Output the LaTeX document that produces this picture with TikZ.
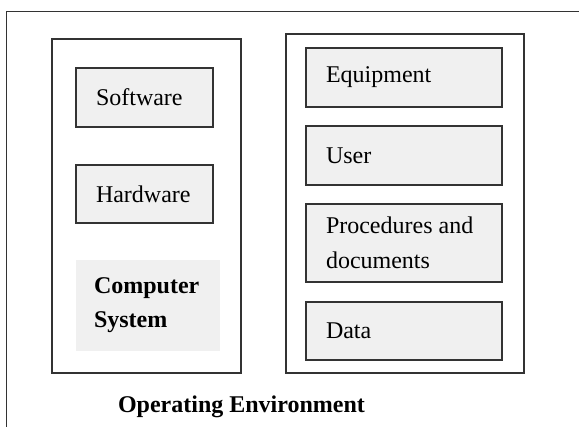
\documentclass[tikz,border=0pt]{standalone}
\usepackage{fontspec}
\setmainfont{Liberation Serif}
\definecolor{boxfill}{HTML}{F0F0F0}
\definecolor{boxline}{HTML}{333333}

\begin{document}
\begin{tikzpicture}[x=0.5pt,y=-0.5pt,line width=0.75pt,
  part/.style={draw=boxline,fill=boxfill,align=flush left,inner xsep=10pt,inner ysep=0pt,minimum height=29.5pt,font=\fontsize{12}{17.5}\selectfont}]
  \useasboundingbox (0,0) rectangle (579,427);
  % marco exterior (entorno)
  \draw[boxline] (6.5,440)--(6.5,11.5)--(590,11.5);
  % sistema (izquierda)
  \draw[boxline] (52,39) rectangle (241,373);
  \node[part,text width=48.5pt] (software) at (144.5,97.5){Software};
  \node[part,text width=48.5pt,minimum height=29pt] (hardware) at (144.5,194){Hardware};
  \node[fill=boxfill,align=flush left,inner xsep=9pt,text width=54pt,minimum height=45.5pt,font=\fontsize{12}{17}\selectfont\bfseries] (compsys) at (148,305.5){Computer\\System};
  % entorno (derecha)
  \draw[boxline] (286,34) rectangle (524,373);
  \node[part,text width=78pt] (equip) at (404,77.5){Equipment};
  \node[part,text width=78pt] (user) at (404,155.5){User};
  \node[part,text width=78pt,minimum height=39pt] (proc) at (404,243){Procedures and\\documents};
  \node[part,text width=78pt,minimum height=29pt] (data) at (404,331){Data};
  \node[anchor=base,font=\fontsize{12}{14}\selectfont\bfseries] (openv) at (241.5,413){Operating Environment};
\end{tikzpicture}
\end{document}
